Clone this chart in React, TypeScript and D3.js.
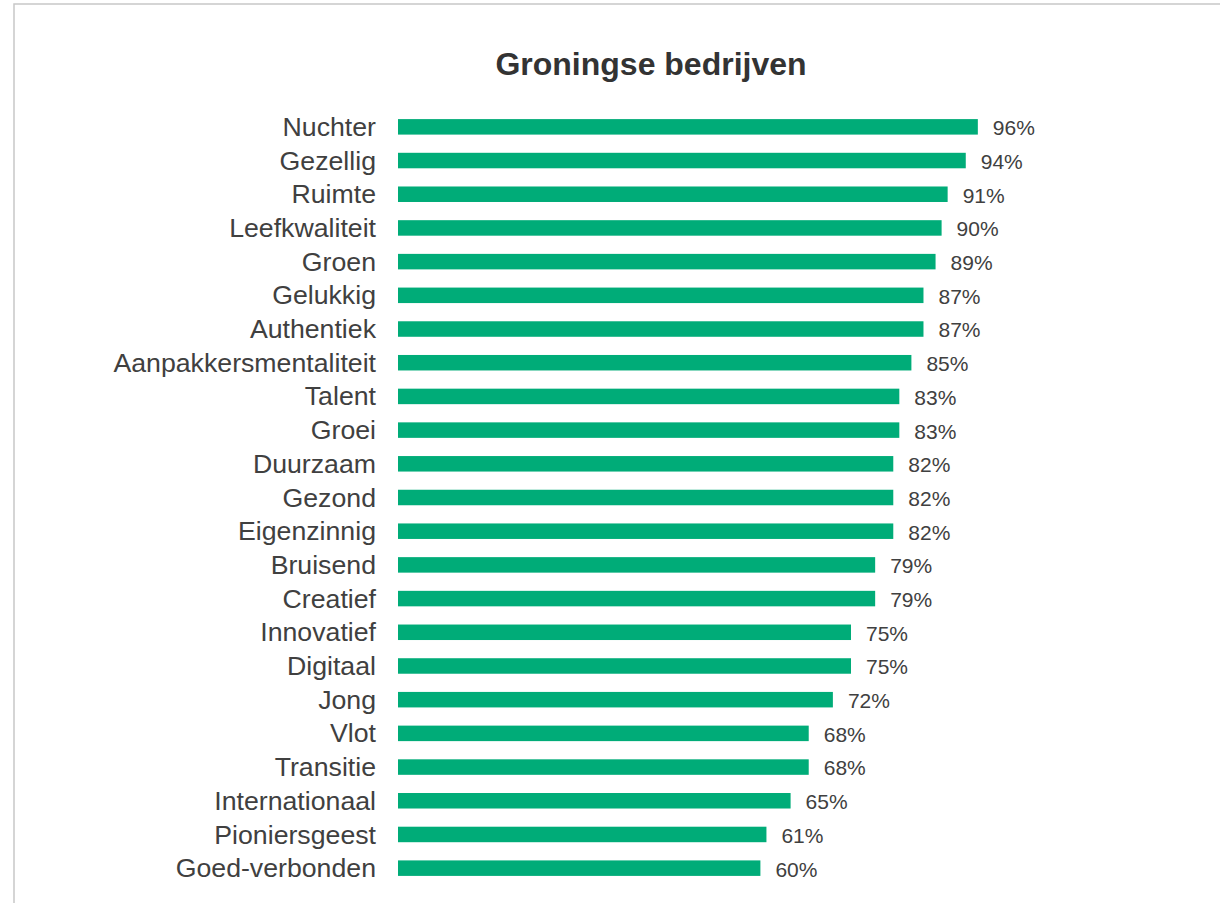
import React from "react";
import * as d3 from "d3";

const categories = [
  "Nuchter", "Gezellig", "Ruimte", "Leefkwaliteit", "Groen", "Gelukkig", "Authentiek",
  "Aanpakkersmentaliteit", "Talent", "Groei", "Duurzaam", "Gezond", "Eigenzinnig",
  "Bruisend", "Creatief", "Innovatief", "Digitaal", "Jong", "Vlot", "Transitie",
  "Internationaal", "Pioniersgeest", "Goed-verbonden",
];
const values = [96, 94, 91, 90, 89, 87, 87, 85, 83, 83, 82, 82, 82, 79, 79, 75, 75, 72, 68, 68, 65, 61, 60];
const title = "Groningse bedrijven";

export default function App() {
  const W = 1220, H = 903;
  const font = "'Liberation Sans', Arial, Helvetica, sans-serif";
  const x = d3.scaleLinear().domain([0, 100]).range([398, 1002]);
  const y = d3.scaleBand<string>().domain(categories).range([110, 885]).paddingInner(0.54).paddingOuter(0.27);
  return (
    <svg width={W} height={H} style={{ position: "absolute", left: 0, top: 0, background: "#fff" }}>
      <rect x={14} y={4} width={W + 20} height={H + 20} fill="#fff" stroke="#c8c8c8" strokeWidth={1.5} />
      <text x={651} y={75} textAnchor="middle" fontFamily={font} fontSize={32} fontWeight="bold" fill="#333">
        {title}
      </text>
      {categories.map((c, i) => {
        const yy = y(c)!;
        const bw = y.bandwidth();
        const cy = yy + bw / 2;
        return (
          <g key={c}>
            <rect x={x(0)} y={yy} width={x(values[i]) - x(0)} height={bw} fill="#00ac78" />
            <text x={376} y={cy} dy="0.34em" textAnchor="end" fontFamily={font} fontSize={26.7} fill="#404040">
              {c}
            </text>
            <text x={x(values[i]) + 15} y={cy} dy="0.4em" fontFamily={font} fontSize={21} fill="#404040">
              {values[i]}%
            </text>
          </g>
        );
      })}
    </svg>
  );
}
